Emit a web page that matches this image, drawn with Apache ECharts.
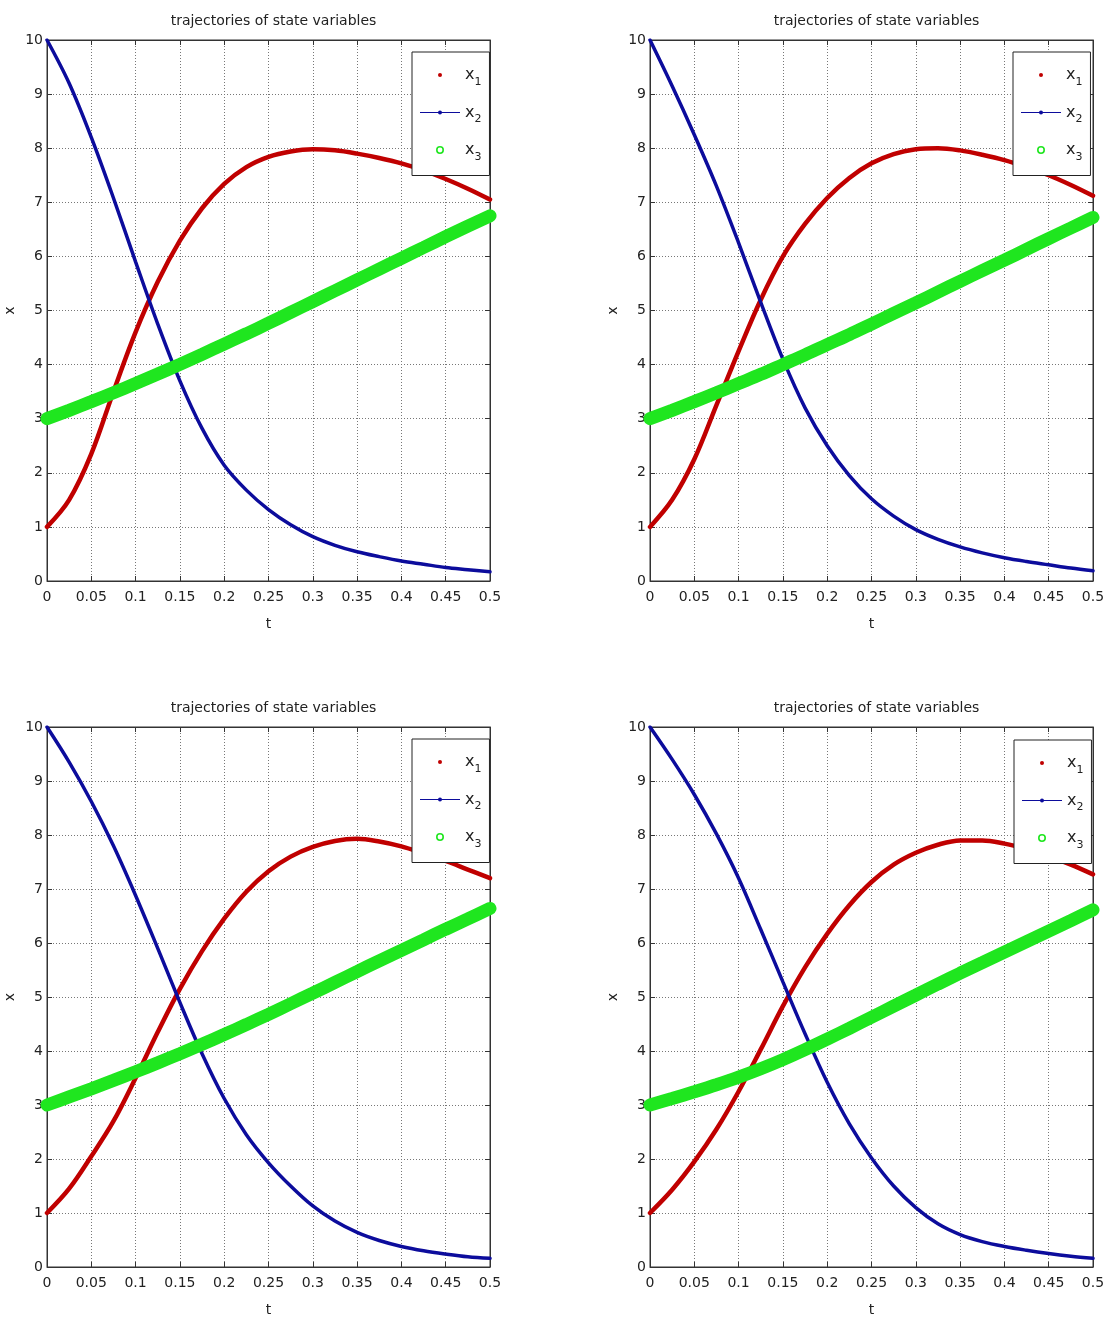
<!DOCTYPE html>
<html>
<head>
<meta charset="utf-8">
<script src="https://cdn.jsdelivr.net/npm/echarts@6/dist/echarts.min.js"></script>
<style>
html,body{margin:0;padding:0;background:#fff;}
#chart{width:1109px;height:1321px;}
</style>
</head>
<body>
<div id="chart"></div>
<script>
// ---- data ----
const titleText = 'trajectories of state variables';
const seriesNames = ['x1', 'x2', 'x3'];
const tValues = [0, 0.025, 0.05, 0.075, 0.1, 0.125, 0.15, 0.175, 0.2, 0.225, 0.25,
                 0.275, 0.3, 0.325, 0.35, 0.375, 0.4, 0.425, 0.45, 0.475, 0.5];
const xTicks = [0, 0.05, 0.1, 0.15, 0.2, 0.25, 0.3, 0.35, 0.4, 0.45, 0.5];
const yTicks = [0, 1, 2, 3, 4, 5, 6, 7, 8, 9, 10];

// panel A (top-left)
const x1_A = [1.0, 1.5, 2.35, 3.5, 4.6, 5.53, 6.29, 6.89, 7.34, 7.65, 7.84, 7.94, 7.98, 7.96, 7.9, 7.82, 7.72, 7.59, 7.43, 7.25, 7.05];
const x2_A = [10, 9.2, 8.2, 7.08, 5.9, 4.75, 3.7, 2.82, 2.14, 1.68, 1.32, 1.04, 0.82, 0.66, 0.54, 0.45, 0.37, 0.31, 0.25, 0.21, 0.17];
const x3_A = [3.0, 3.155, 3.315, 3.48, 3.65, 3.825, 4.005, 4.19, 4.38, 4.57, 4.765, 4.965, 5.165, 5.365, 5.565, 5.765, 5.965, 6.165, 6.365, 6.56, 6.75];
// panel B (top-right)
const x1_B = [1.0, 1.5, 2.25, 3.25, 4.25, 5.2, 6.0, 6.6, 7.08, 7.45, 7.72, 7.89, 7.98, 8.0, 7.96, 7.88, 7.78, 7.65, 7.5, 7.32, 7.12];
const x2_B = [10, 9.15, 8.25, 7.3, 6.25, 5.15, 4.1, 3.2, 2.5, 1.95, 1.52, 1.2, 0.95, 0.77, 0.63, 0.52, 0.43, 0.36, 0.3, 0.24, 0.19];
const x3_B = [3.0, 3.155, 3.315, 3.48, 3.65, 3.82, 4.0, 4.18, 4.37, 4.555, 4.75, 4.945, 5.14, 5.34, 5.54, 5.735, 5.93, 6.13, 6.33, 6.525, 6.72];
// panel C (bottom-left)
const x1_C = [1.0, 1.45, 2.05, 2.7, 3.5, 4.35, 5.15, 5.85, 6.45, 6.95, 7.33, 7.6, 7.78, 7.89, 7.93, 7.88, 7.79, 7.66, 7.52, 7.36, 7.2];
const x2_C = [10, 9.35, 8.62, 7.8, 6.88, 5.9, 4.9, 3.95, 3.12, 2.45, 1.93, 1.5, 1.13, 0.85, 0.64, 0.49, 0.38, 0.3, 0.24, 0.19, 0.16];
const x3_C = [3.0, 3.15, 3.3, 3.455, 3.615, 3.78, 3.95, 4.125, 4.305, 4.49, 4.68, 4.875, 5.07, 5.27, 5.47, 5.67, 5.865, 6.06, 6.255, 6.445, 6.64];
// panel D (bottom-right)
const x1_D = [1.0, 1.43, 1.95, 2.55, 3.25, 4.03, 4.83, 5.55, 6.17, 6.7, 7.13, 7.45, 7.67, 7.82, 7.9, 7.9, 7.84, 7.74, 7.61, 7.45, 7.27];
const x2_D = [10, 9.4, 8.75, 8.02, 7.2, 6.25, 5.28, 4.32, 3.42, 2.65, 2.02, 1.5, 1.1, 0.8, 0.6, 0.47, 0.38, 0.31, 0.25, 0.2, 0.16];
const x3_D = [3.0, 3.12, 3.245, 3.375, 3.515, 3.67, 3.84, 4.025, 4.22, 4.42, 4.625, 4.83, 5.035, 5.24, 5.44, 5.635, 5.83, 6.025, 6.22, 6.415, 6.615];

// ---- layout / style ----
const FONT = '"DejaVu Sans", "Liberation Sans", sans-serif';
const panelData = [[x1_A, x2_A, x3_A], [x1_B, x2_B, x3_B], [x1_C, x2_C, x3_C], [x1_D, x2_D, x3_D]];
const grids = [
  {left: 47, top: 40, width: 443, height: 541},
  {left: 650, top: 40, width: 443, height: 541},
  {left: 47, top: 727, width: 443, height: 540},
  {left: 650, top: 727, width: 443, height: 540}
];
const legendPos = [[412, 52], [1013, 52], [412, 739], [1014, 740]];
const colors = ['#c00000', '#0c0c9c', '#1fe61f'];
const widths = [4.5, 3.5, 13];
const icons = [
  'path://M0,0 L0,0 M40,10 L40,10 M18,5 a2,2 0 1,1 4,0 a2,2 0 1,1 -4,0 Z',
  'path://M0,0 L0,0 M40,10 L40,10 M0,4.4 L40,4.4 L40,5.6 L0,5.6 Z M18,5 a2,2 0 1,1 4,0 a2,2 0 1,1 -4,0 Z',
  'path://M0,0 L0,0 M40,10 L40,10 M16,5 a4,4 0 1,1 8,0 a4,4 0 1,1 -8,0 Z M17.6,5 a2.4,2.4 0 1,0 4.8,0 a2.4,2.4 0 1,0 -4.8,0 Z'
];

const gridLine = {show: true, lineStyle: {color: '#777', type: [1, 2], width: 1}};
const option = {
  backgroundColor: '#fff',
  animation: false,
  title: [], grid: [], xAxis: [], yAxis: [], legend: [], series: []
};

grids.forEach((g, i) => {
  option.grid.push(Object.assign({show: true, borderColor: '#333', borderWidth: 1, backgroundColor: '#fff'}, g));
  option.title.push({
    text: titleText, left: g.left + g.width / 2, top: g.top - 31, textAlign: 'center',
    textStyle: {fontFamily: FONT, fontSize: 14, fontWeight: 'normal', color: '#222'}
  });
  option.xAxis.push({
    type: 'value', gridIndex: i, min: xTicks[0], max: xTicks[xTicks.length - 1], interval: 0.05,
    name: 't', nameLocation: 'middle', nameGap: 36,
    nameTextStyle: {fontFamily: FONT, fontSize: 14, color: '#222'},
    axisLine: {show: true, onZero: false, lineStyle: {color: '#333'}},
    axisTick: {show: true, inside: true, length: 5, lineStyle: {color: '#333'}},
    axisLabel: {fontFamily: FONT, fontSize: 14, color: '#222', margin: 9},
    splitLine: gridLine
  });
  option.xAxis.push({
    type: 'value', gridIndex: i, position: 'top', min: xTicks[0], max: xTicks[xTicks.length - 1], interval: 0.05,
    axisLine: {show: true, onZero: false, lineStyle: {color: '#333'}},
    axisTick: {show: true, inside: true, length: 5, lineStyle: {color: '#333'}},
    axisLabel: {show: false}, splitLine: {show: false}
  });
  option.yAxis.push({
    type: 'value', gridIndex: i, min: yTicks[0], max: yTicks[yTicks.length - 1], interval: 1,
    name: 'x', nameLocation: 'middle', nameGap: 30, nameRotate: 90,
    nameTextStyle: {fontFamily: FONT, fontSize: 14, color: '#222'},
    axisLine: {show: true, onZero: false, lineStyle: {color: '#333'}},
    axisTick: {show: true, inside: true, length: 5, lineStyle: {color: '#333'}},
    axisLabel: {fontFamily: FONT, fontSize: 14, color: '#222', margin: 4},
    splitLine: gridLine
  });
  option.yAxis.push({
    type: 'value', gridIndex: i, position: 'right', min: yTicks[0], max: yTicks[yTicks.length - 1], interval: 1,
    axisLine: {show: true, onZero: false, lineStyle: {color: '#333'}},
    axisTick: {show: true, inside: true, length: 5, lineStyle: {color: '#333'}},
    axisLabel: {show: false}, splitLine: {show: false}
  });
  option.legend.push({
    orient: 'vertical', left: legendPos[i][0], top: legendPos[i][1],
    backgroundColor: '#fff', borderColor: '#222', borderWidth: 1,
    padding: [15, 8, 13, 8], itemGap: 17, itemWidth: 40, itemHeight: 10,
    selectedMode: false,
    data: seriesNames.map((n, k) => ({name: n, icon: icons[k], itemStyle: {color: colors[k], borderWidth: 0}})),
    formatter: (name) => '{v|x}{s|' + name.slice(1) + '}',
    textStyle: {
      fontFamily: FONT, color: '#222',
      rich: {
        v: {fontSize: 16, fontFamily: FONT, color: '#222'},
        s: {fontSize: 11, fontFamily: FONT, color: '#222', padding: [14, 0, 0, 0]}
      }
    }
  });
  panelData[i].forEach((arr, k) => {
    option.series.push({
      name: seriesNames[k], type: 'line', xAxisIndex: 2 * i, yAxisIndex: 2 * i,
      data: tValues.map((t, j) => [t, arr[j]]),
      showSymbol: false, symbol: 'none', smooth: 0.35,
      lineStyle: {color: colors[k], width: widths[k], cap: 'round'},
      itemStyle: {color: colors[k]},
      z: 2 + k
    });
  });
});

const chart = echarts.init(document.getElementById('chart'), null, {renderer: 'canvas'});
chart.setOption(option);
</script>
</body>
</html>
